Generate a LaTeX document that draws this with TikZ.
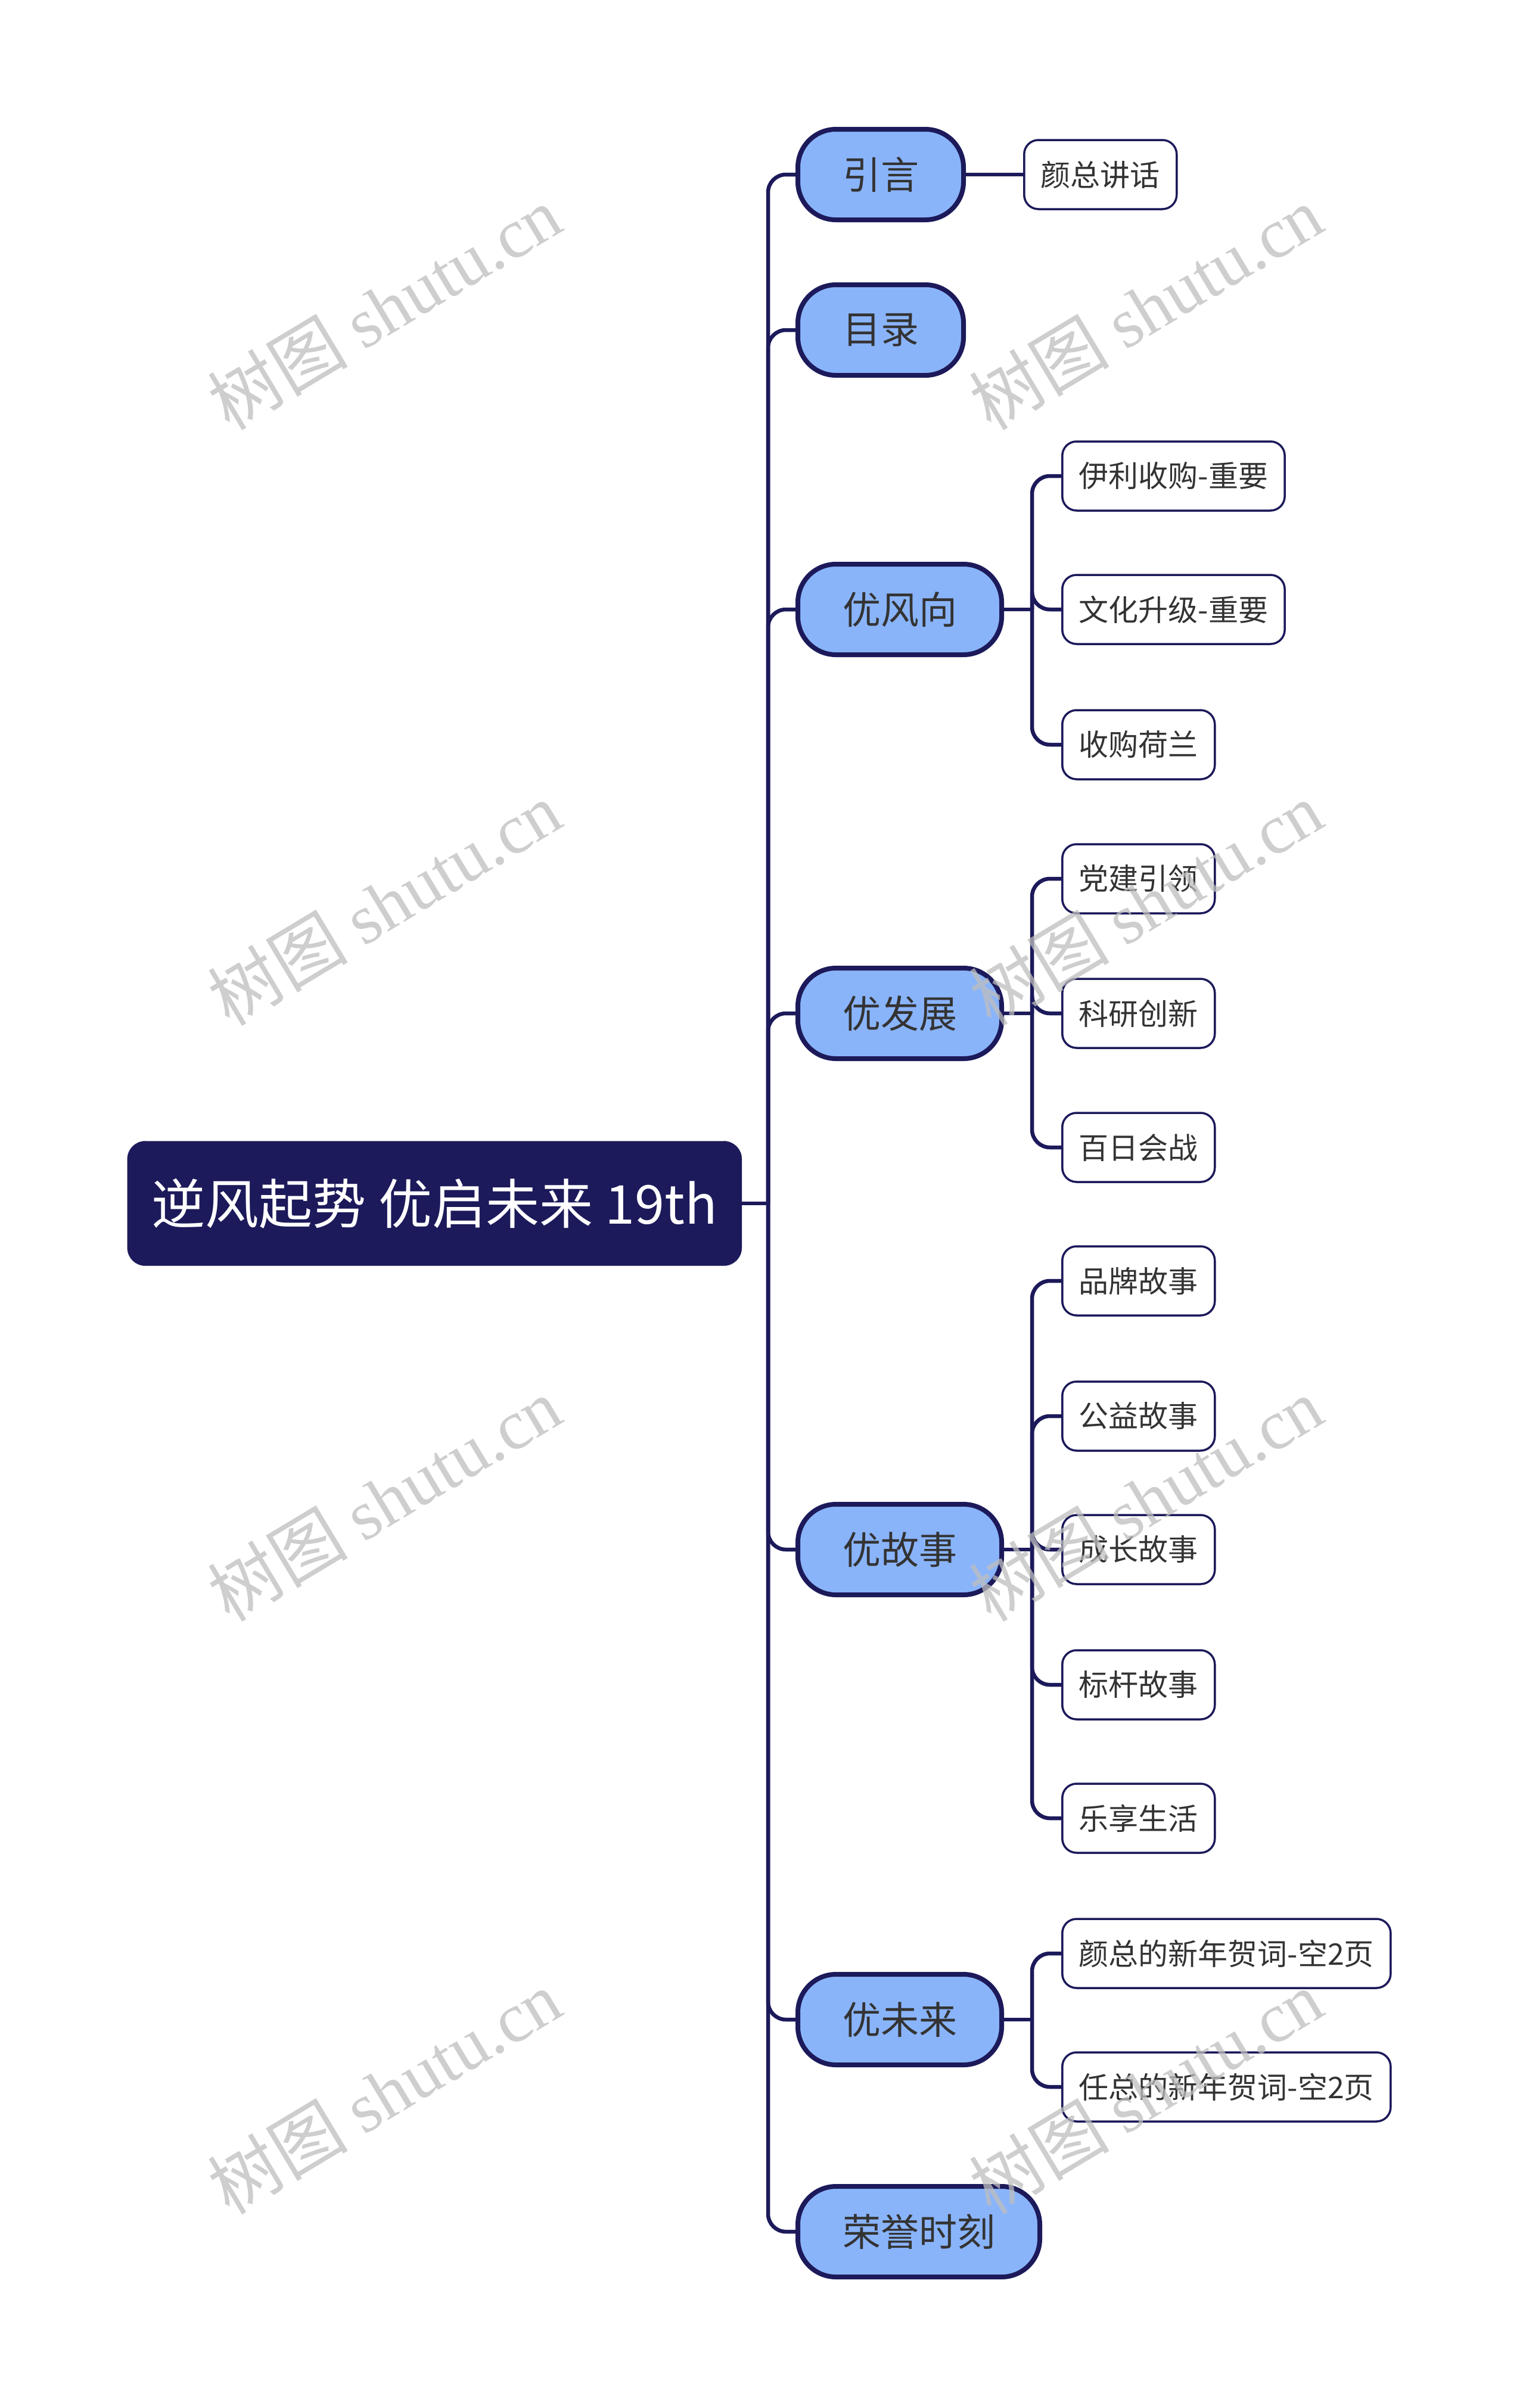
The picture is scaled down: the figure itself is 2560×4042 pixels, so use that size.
\documentclass[tikz,border=0pt]{standalone}
\usepackage{fontspec}
\setmainfont{Noto Sans CJK SC}
\newfontfamily\wmlat{Liberation Serif}
\usetikzlibrary{backgrounds}
\definecolor{navy}{RGB}{28,26,90}
\definecolor{pillblue}{RGB}{138,180,250}
\definecolor{txt}{RGB}{51,51,51}
\definecolor{wm}{RGB}{190,190,190}
\begin{document}
\begin{tikzpicture}[x=1pt,y=-1pt,
  rootbox/.style={draw=navy, fill=navy, rounded corners=30pt, minimum width=1031pt, minimum height=209pt, text=white, font=\fontsize{90pt}{100pt}\selectfont, anchor=east, inner sep=0pt},
  pill/.style={draw=navy, line width=8pt, fill=pillblue, rounded corners=64pt, minimum height=152pt, inner xsep=75pt, inner ysep=0pt, text=txt, font=\fontsize{64pt}{72pt}\selectfont, anchor=west},
  leaf/.style={draw=navy, line width=3.5pt, fill=white, rounded corners=24pt, minimum height=116pt, inner xsep=28pt, inner ysep=0pt, text=txt, font=\fontsize{50pt}{60pt}\selectfont, anchor=west},
  edge/.style={draw=navy, line width=6.5pt, rounded corners=30pt},
  wmark/.style={text=wm, rotate=31, opacity=0.75, inner sep=0pt}
]
\useasboundingbox (0,0) rectangle (2560,4042);

% root
\node[rootbox] (root) at (1245,2020) {逆风起势 优启未来 19th};

% level 1
\node[pill] (a) at (1335,293) {引言};
\node[pill] (b) at (1335,554) {目录};
\node[pill] (c) at (1335,1023) {优风向};
\node[pill] (d) at (1335,1701) {优发展};
\node[pill] (e) at (1335,2601) {优故事};
\node[pill] (f) at (1335,3390) {优未来};
\node[pill] (g) at (1335,3746) {荣誉时刻};

% level 2
\node[leaf] (a1) at (1717,293) {颜总讲话};
\node[leaf] (c1) at (1781,799) {伊利收购-重要};
\node[leaf] (c2) at (1781,1023) {文化升级-重要};
\node[leaf] (c3) at (1781,1250) {收购荷兰};
\node[leaf] (d1) at (1781,1475) {党建引领};
\node[leaf] (d2) at (1781,1701) {科研创新};
\node[leaf] (d3) at (1781,1926) {百日会战};
\node[leaf] (e1) at (1781,2150) {品牌故事};
\node[leaf] (e2) at (1781,2377) {公益故事};
\node[leaf] (e3) at (1781,2601) {成长故事};
\node[leaf] (e4) at (1781,2828) {标杆故事};
\node[leaf] (e5) at (1781,3052) {乐享生活};
\node[leaf] (f1) at (1781,3279) {颜总的新年贺词-空2页};
\node[leaf] (f2) at (1781,3503) {任总的新年贺词-空2页};

% junction coordinates
\coordinate (tr) at (1289,2020);
\coordinate (cb) at (1732,1023);
\coordinate (db) at (1732,1701);
\coordinate (eb) at (1732,2601);
\coordinate (fb) at (1732,3390);

\begin{scope}[on background layer]
\fill[white] (0,0) rectangle (2560,4042);
\draw[edge] (root.east) -- (tr);
\foreach \n in {a,b,c,d,e,f,g} \draw[edge] (tr) |- (\n.west);
\draw[edge] (a.east) -- (a1.west);
\draw[edge] (c.east) -- (cb);
\foreach \n in {c1,c2,c3} \draw[edge] (cb) |- (\n.west);
\draw[edge] (d.east) -- (db);
\foreach \n in {d1,d2,d3} \draw[edge] (db) |- (\n.west);
\draw[edge] (e.east) -- (eb);
\foreach \n in {e1,e2,e3,e4,e5} \draw[edge] (eb) |- (\n.west);
\draw[edge] (f.east) -- (fb);
\foreach \n in {f1,f2} \draw[edge] (fb) |- (\n.west);
\end{scope}

% watermarks
\foreach \wx/\wy/\nm in {645/516/w1,1923/516/w2,645/1516/w3,1923/1516/w4,645/2516/w5,1923/2516/w6,645/3511/w7,1923/3511/w8}
  \node[wmark] (\nm) at (\wx,\wy) {\fontsize{118pt}{130pt}\selectfont 树图 {\wmlat shutu.cn}};
\end{tikzpicture}
\end{document}
